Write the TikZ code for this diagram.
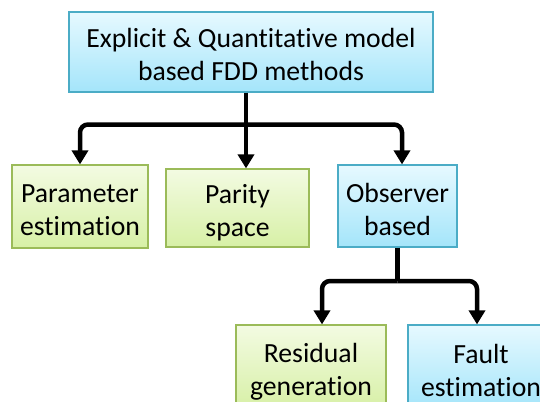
\documentclass[tikz,border=0pt]{standalone}
\usepackage{fontspec}
\setmainfont{Carlito}[Ligatures=NoCommon]
\usetikzlibrary{arrows.meta}
\definecolor{bluetop}{HTML}{E6F9FF}
\definecolor{bluebot}{HTML}{A4E5FA}
\definecolor{blueedge}{HTML}{4BACC6}
\definecolor{greentop}{HTML}{F3FBE2}
\definecolor{greenbot}{HTML}{D7F0A6}
\definecolor{greenedge}{HTML}{9BBB59}
% two-line label with fixed struts, so all labels sit at the same height
\newcommand{\twolines}[2]{\rule{0pt}{28pt}#1\\#2\rule[-3pt]{0pt}{0pt}}
\begin{document}
\begin{tikzpicture}[x=1pt,y=-1pt,
  box/.style={draw, line width=1.2pt, align=center, inner sep=0pt,
    font=\fontsize{27.7}{33}\selectfont},
  bluebox/.style={box, draw=blueedge, top color=bluetop, bottom color=bluebot},
  greenbox/.style={box, draw=greenedge, top color=greentop, bottom color=greenbot},
  link/.style={line width=4.5pt, rounded corners=8pt},
  arr/.style={link, -{Triangle[width=16pt,length=14pt]}}]
\fill[white] (0,0) rectangle (540,401);
\useasboundingbox (0,0) rectangle (540,401);
\clip (0,0) rectangle (540,401);

% boxes
\node[bluebox, minimum width=364pt, minimum height=80pt] (top) at (251,52)
  {\twolines{Explicit \& Quantitative model}{based FDD methods}};
\node[greenbox, minimum width=136pt, minimum height=83pt] (param) at (80,206.5)
  {\twolines{Parameter}{estimation}};
\node[greenbox, minimum width=143pt, minimum height=78pt] (parity) at (237.5,208)
  {\twolines{Parity}{space}};
\node[bluebox, minimum width=119pt, minimum height=82pt] (obs) at (397.5,206)
  {\twolines{Observer}{based}};
\node[greenbox, minimum width=150pt, minimum height=84pt] (res) at (311,367)
  {\twolines{Residual}{generation}};
\node[bluebox, minimum width=146pt, minimum height=84pt] (fault) at (481,367)
  {\twolines{Fault}{estimation}};

% first level connectors
\coordinate (j1) at (246,124.5);
\draw[link] (top.south -| j1) -- (j1);
\draw[arr] (j1) -| (param.north);
\draw[arr] (j1) -- (parity.north -| j1);
\draw[arr] (j1) -| ([xshift=4.5pt]obs.north);

% second level connectors
\coordinate (j2) at (397.5,281);
\draw[link] (obs.south) -- (j2);
\draw[arr] (j2) -| ([xshift=11pt]res.north);
\draw[arr] (j2) -| ([xshift=-4pt]fault.north);
\end{tikzpicture}
\end{document}
